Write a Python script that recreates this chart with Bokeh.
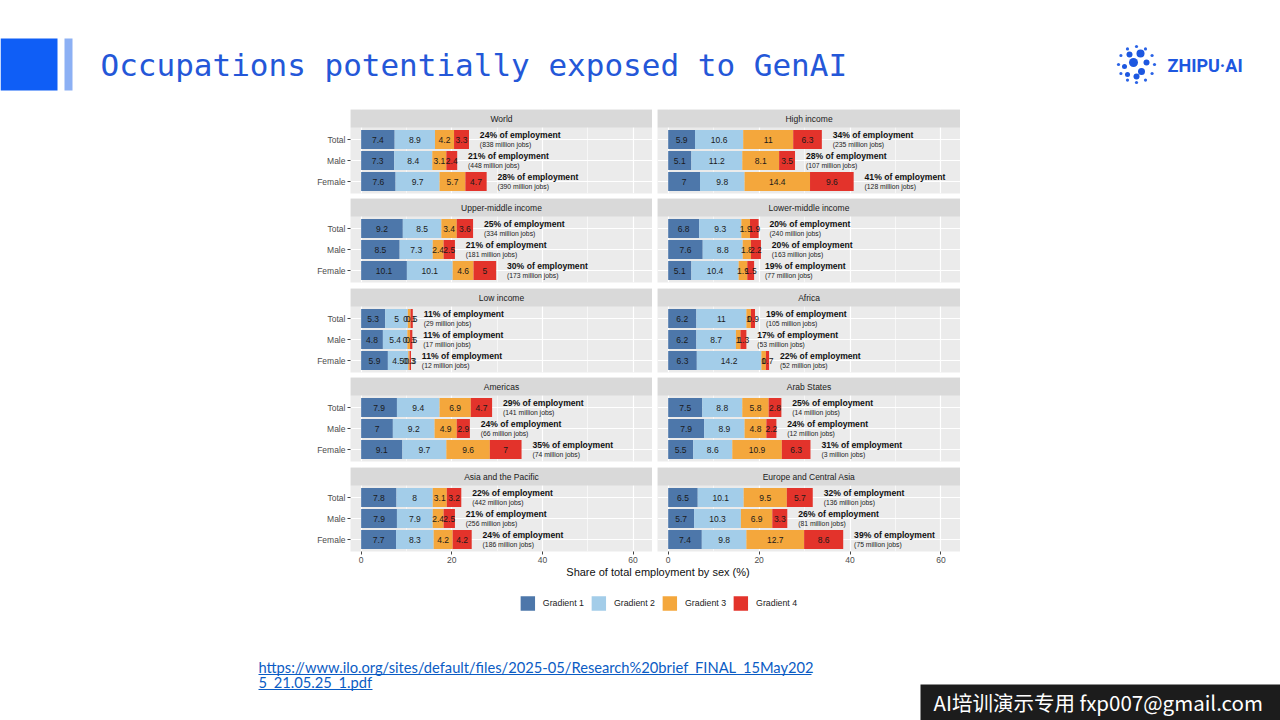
import numpy as np
from bokeh.plotting import figure
from bokeh.layouts import column, row, Spacer
from bokeh.models import Range1d, FixedTicker, Legend, LegendItem
from bokeh.embed import file_html
from bokeh.resources import INLINE
from bokeh.core.properties import value

# ---------------- data ----------------
regions = ["World", "High income", "Upper-middle income", "Lower-middle income",
           "Low income", "Africa", "Americas", "Arab States",
           "Asia and the Pacific", "Europe and Central Asia"]
groups = ["Total", "Male", "Female"]
series = ["Gradient 1", "Gradient 2", "Gradient 3", "Gradient 4"]
colors = ["#4d77aa", "#a3cde9", "#f4a73c", "#e3332b"]

gradient1 = [[7.4, 7.3, 7.6], [5.9, 5.1, 7], [9.2, 8.5, 10.1], [6.8, 7.6, 5.1], [5.3, 4.8, 5.9],
             [6.2, 6.2, 6.3], [7.9, 7, 9.1], [7.5, 7.9, 5.5], [7.8, 7.9, 7.7], [6.5, 5.7, 7.4]]
gradient2 = [[8.9, 8.4, 9.7], [10.6, 11.2, 9.8], [8.5, 7.3, 10.1], [9.3, 8.8, 10.4], [5.0, 5.4, 4.5],
             [11, 8.7, 14.2], [9.4, 9.2, 9.7], [8.8, 8.9, 8.6], [8, 7.9, 8.3], [10.1, 10.3, 9.8]]
gradient3 = [[4.2, 3.1, 5.7], [11, 8.1, 14.4], [3.4, 2.4, 4.6], [1.9, 1.8, 1.9], [0.6, 0.6, 0.3],
             [1.0, 1.0, 1.0], [6.9, 4.9, 9.6], [5.8, 4.8, 10.9], [3.1, 2.4, 4.2], [9.5, 6.9, 12.7]]
gradient4 = [[3.3, 2.4, 4.7], [6.3, 3.5, 9.6], [3.6, 2.5, 5], [1.9, 2.2, 1.5], [0.5, 0.5, 0.3],
             [0.9, 1.3, 0.7], [4.7, 2.9, 7], [2.8, 2.2, 6.3], [3.2, 2.5, 4.2], [5.7, 3.3, 8.6]]
share_pct = [[24, 21, 28], [34, 28, 41], [25, 21, 30], [20, 20, 19], [11, 11, 11],
             [19, 17, 22], [29, 24, 35], [25, 24, 31], [22, 21, 24], [32, 26, 39]]
million_jobs = [[838, 448, 390], [235, 107, 128], [334, 181, 173], [240, 163, 77], [29, 17, 12],
                [105, 53, 52], [141, 66, 74], [14, 12, 3], [442, 256, 186], [136, 81, 75]]
x_ticks = [0, 20, 40, 60]
x_minor = [10, 30, 50]
x_title = "Share of total employment by sex (%)"

title_text = "Occupations potentially exposed to GenAI"
link_lines = ["https://www.ilo.org/sites/default/files/2025-05/Research%20brief_FINAL_15May202",
              "5_21.05.25_1.pdf"]
watermark = "AI培训演示专用 fxp007@gmail.com"

# ---------------- styling ----------------
FONT = "Liberation Sans"
XS, XE = -2.35, 64.3
ROW_POS = [2, 1, 0]            # Total, Male, Female (top to bottom)
Y0, Y1, YS = -0.571, 2.571, 3.429
PANEL_BG = "#ebebeb"
STRIP_BG = "#d9d9d9"


def make_panel(i, left_col, bottom_row, gap):
    fig = figure(frame_width=302 if left_col else 303, frame_height=84,
                 x_range=Range1d(XS, XE), y_range=Range1d(Y0, YS),
                 output_backend="svg", toolbar_location=None,
                 min_border_left=45 if left_col else 0, min_border_right=0,
                 min_border_top=0, min_border_bottom=15 if bottom_row else gap,
                 background_fill_color=PANEL_BG, border_fill_color="white",
                 outline_line_color=None)
    # grids
    fig.xgrid.ticker = FixedTicker(ticks=x_ticks, minor_ticks=x_minor)
    fig.xgrid.grid_line_color = "white"
    fig.xgrid.grid_line_width = 1.2
    fig.xgrid.minor_grid_line_color = "white"
    fig.xgrid.minor_grid_line_width = 0.6
    fig.ygrid.ticker = FixedTicker(ticks=ROW_POS)
    fig.ygrid.grid_line_color = "white"
    fig.ygrid.grid_line_width = 1.2

    # stacked bars
    vals = np.array([gradient1[i], gradient2[i], gradient3[i], gradient4[i]], dtype=float)
    cum = vals.cumsum(axis=0)
    left = cum - vals
    for s in range(len(series)):
        fig.hbar(y=ROW_POS, left=left[s], right=cum[s], height=0.9,
                 fill_color=colors[s], line_color=None)
        fig.text(x=(left[s] + cum[s]) / 2, y=ROW_POS,
                 text=[f"{v:g}" for v in vals[s]],
                 text_align="center", text_baseline="middle",
                 text_font=value(FONT), text_font_size="8.5px", text_color="#1a1a1a")
    total = cum[-1]
    fig.text(x=total + 2.4, y=np.array(ROW_POS) + 0.2,
             text=[f"{p}% of employment" for p in share_pct[i]],
             text_align="left", text_baseline="middle", text_font=value(FONT),
             text_font_size="8.6px", text_font_style="bold", text_color="#111111")
    fig.text(x=total + 2.4, y=np.array(ROW_POS) - 0.24,
             text=[f"({m} million jobs)" for m in million_jobs[i]],
             text_align="left", text_baseline="middle", text_font=value(FONT),
             text_font_size="6.8px", text_color="#222222")

    # facet strip
    fig.quad(left=XS, right=XE, bottom=Y1, top=YS, fill_color=STRIP_BG, line_color=None)
    fig.text(x=[(XS + XE) / 2], y=[(Y1 + YS) / 2], text=[regions[i]],
             text_align="center", text_baseline="middle", text_font=value(FONT),
             text_font_size="8.5px", text_color="#1a1a1a")

    # axes
    if bottom_row:
        ax = fig.xaxis[0]
        ax.ticker = FixedTicker(ticks=x_ticks)
        ax.axis_line_color = None
        ax.major_tick_in = 0
        ax.major_tick_out = 3
        ax.minor_tick_line_color = None
        ax.major_tick_line_color = "#444444"
        ax.major_label_standoff = 2
        ax.major_label_text_font = FONT
        ax.major_label_text_font_size = "8.5px"
        ax.major_label_text_color = "#4d4d4d"
    else:
        fig.xaxis.visible = False
    if left_col:
        ay = fig.yaxis[0]
        ay.ticker = FixedTicker(ticks=ROW_POS)
        ay.major_label_overrides = {p: g for p, g in zip(ROW_POS, groups)}
        ay.axis_line_color = None
        ay.major_tick_in = 0
        ay.major_tick_out = 3
        ay.minor_tick_line_color = None
        ay.major_tick_line_color = "#444444"
        ay.major_label_standoff = 2
        ay.major_label_text_font = FONT
        ay.major_label_text_font_size = "8.5px"
        ay.major_label_text_color = "#4d4d4d"
    else:
        fig.yaxis.visible = False
    return fig


gaps = [5, 6, 5, 6, 0]
rows = []
for r in range(5):
    bottom = (r == 4)
    pl = make_panel(2 * r, True, bottom, gaps[r])
    pr = make_panel(2 * r + 1, False, bottom, gaps[r])
    rows.append(row(pl, Spacer(width=5), pr, Spacer(width=5)))

# axis title + legend
cap = figure(width=615, height=49, x_range=Range1d(0, 1), y_range=Range1d(0, 49),
             output_backend="svg", toolbar_location=None, min_border=0,
             outline_line_color=None, border_fill_color="white", background_fill_color="white")
cap.axis.visible = False
cap.grid.visible = False
cap.text(x=[0.5], y=[43.5], text=[x_title], text_align="center", text_baseline="middle",
         text_font=value(FONT), text_font_size="11px", text_color="#111111")
items = []
for s, c in zip(series, colors):
    # legend key only: a placeholder quad with no drawable extent
    rr = cap.quad(left=[np.nan], right=[np.nan], top=[np.nan], bottom=[np.nan],
                  fill_color=c, line_color=None)
    items.append(LegendItem(label=value(s), renderers=[rr]))
leg = Legend(items=items, orientation="horizontal", location="bottom_center",
             glyph_width=18, glyph_height=18, label_height=18, label_standoff=7,
             spacing=5, padding=0, margin=3, border_line_color=None,
             background_fill_alpha=0, label_text_font=FONT,
             label_text_font_size="8.8px", label_text_color="#222222")
cap.add_layout(leg)

chart = column(Spacer(height=6), *rows, row(Spacer(width=45), cap))

# ---------------- slide header ----------------
hdr = figure(width=1280, height=103, x_range=Range1d(0, 1280), y_range=Range1d(103, 0),
             output_backend="svg", toolbar_location=None, min_border=0,
             outline_line_color=None, border_fill_color="white", background_fill_color="white")
hdr.axis.visible = False
hdr.grid.visible = False
hdr.quad(left=[0], right=[57], top=[38], bottom=[90], fill_color="#0f5ef6", line_color=None)
hdr.quad(left=[64], right=[72], top=[38], bottom=[90], fill_color="#8cb0f4", line_color=None)
hdr.text(x=[100], y=[64], text=[title_text], text_baseline="middle", text_align="left",
         text_font=value("DejaVu Sans Mono"), text_font_size="31px", text_color="#2457d8")
# logo
ang = np.linspace(0, 2 * np.pi, 12, endpoint=False)
hdr.scatter(x=1136 + 18 * np.cos(ang), y=64 + 18 * np.sin(ang), size=3.2,
            fill_color="#2a63e6", line_color=None)
hdr.scatter(x=[1129, 1140, 1146, 1133, 1124, 1141, 1136, 1127],
            y=[54, 53, 62, 62, 66, 71, 76, 74],
            size=[6, 8, 6, 9, 5, 7, 6, 5], fill_color="#1d57e0", line_color=None)
hdr.text(x=[1167], y=[65], text=["ZHIPU·AI"], text_baseline="middle", text_align="left",
         text_font=value("Roboto"), text_font_size="18px", text_font_style="bold",
         text_color="#1d57e0")

# ---------------- slide footer ----------------
ftr = figure(width=1280, height=105, x_range=Range1d(0, 1280), y_range=Range1d(720, 615),
             output_backend="svg", toolbar_location=None, min_border=0,
             outline_line_color=None, border_fill_color="white", background_fill_color="white")
ftr.axis.visible = False
ftr.grid.visible = False
ftr.text(x=[258, 258], y=[666, 681], text=link_lines, text_baseline="middle", text_align="left",
         text_font=value("Lato"), text_font_size="14.7px", text_color="#0b5cc4")
ftr.segment(x0=[258, 258], y0=[674, 689], x1=[811, 372], y1=[674, 689],
            line_color="#0b5cc4", line_width=1)
ftr.quad(left=[920], right=[1280], top=[684], bottom=[720], fill_color="#1c1c1c", line_color=None)
ftr.text(x=[933], y=[701], text=[watermark], text_baseline="middle", text_align="left",
         text_font=value("Noto Sans CJK SC"), text_font_size="20.5px", text_color="white")

page = column(hdr, row(Spacer(width=305, height=512), chart, Spacer(width=315, height=512)), ftr)

open("out.html", "w").write(file_html(page, INLINE))
